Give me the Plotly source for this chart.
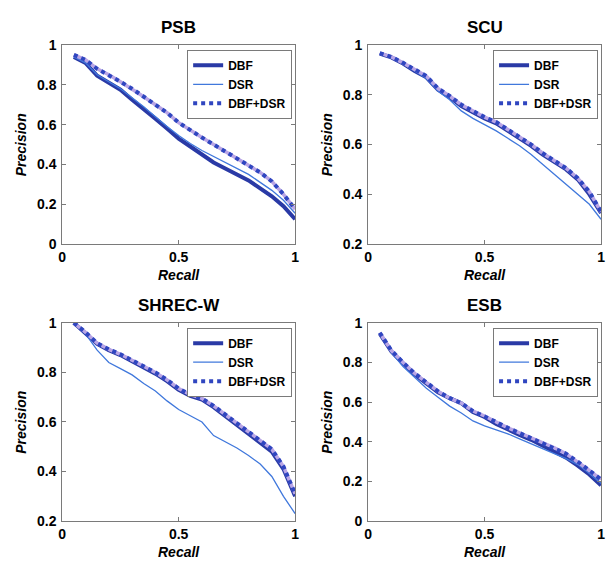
import plotly.graph_objects as go

# Recall sampling points shared by all precision-recall curves
recall = [0.05, 0.10, 0.15, 0.20, 0.25, 0.30, 0.35, 0.40, 0.45, 0.50,
          0.55, 0.60, 0.65, 0.70, 0.75, 0.80, 0.85, 0.90, 0.95, 1.00]

datasets = ["PSB", "SCU", "SHREC-W", "ESB"]

psb_dbf = [0.94, 0.91, 0.845, 0.81, 0.775, 0.725, 0.68, 0.63, 0.58, 0.53,
           0.49, 0.45, 0.41, 0.38, 0.35, 0.32, 0.28, 0.24, 0.19, 0.125]
psb_dsr = [0.94, 0.91, 0.85, 0.815, 0.78, 0.735, 0.69, 0.64, 0.59, 0.545,
           0.505, 0.47, 0.44, 0.41, 0.38, 0.35, 0.31, 0.27, 0.22, 0.155]
psb_both = [0.95, 0.925, 0.88, 0.85, 0.815, 0.78, 0.74, 0.70, 0.66, 0.61,
            0.57, 0.535, 0.50, 0.465, 0.43, 0.395, 0.36, 0.315, 0.25, 0.175]

scu_dbf = [0.965, 0.95, 0.925, 0.895, 0.87, 0.82, 0.79, 0.755, 0.73, 0.705,
           0.685, 0.655, 0.625, 0.595, 0.56, 0.53, 0.50, 0.46, 0.40, 0.325]
scu_dsr = [0.965, 0.95, 0.925, 0.895, 0.865, 0.815, 0.78, 0.735, 0.705, 0.68,
           0.655, 0.625, 0.595, 0.56, 0.52, 0.48, 0.44, 0.40, 0.36, 0.30]
scu_both = [0.967, 0.952, 0.928, 0.9, 0.875, 0.825, 0.795, 0.76, 0.735, 0.71,
            0.69, 0.66, 0.63, 0.60, 0.565, 0.535, 0.505, 0.465, 0.41, 0.33]

shrec_dbf = [1.0, 0.96, 0.915, 0.89, 0.87, 0.845, 0.82, 0.795, 0.765, 0.73,
             0.705, 0.69, 0.66, 0.625, 0.59, 0.555, 0.52, 0.48, 0.41, 0.30]
shrec_dsr = [1.0, 0.955, 0.89, 0.84, 0.815, 0.79, 0.755, 0.725, 0.685, 0.65,
             0.625, 0.60, 0.545, 0.52, 0.495, 0.465, 0.43, 0.38, 0.30, 0.23]
shrec_both = [1.0, 0.962, 0.918, 0.893, 0.873, 0.85, 0.825, 0.80, 0.77, 0.735,
              0.71, 0.695, 0.665, 0.63, 0.595, 0.56, 0.525, 0.49, 0.42, 0.31]

esb_dbf = [0.945, 0.855, 0.795, 0.74, 0.695, 0.65, 0.62, 0.595, 0.55, 0.525,
           0.49, 0.46, 0.435, 0.41, 0.38, 0.355, 0.32, 0.28, 0.235, 0.18]
esb_dsr = [0.945, 0.85, 0.78, 0.725, 0.67, 0.625, 0.58, 0.545, 0.505, 0.48,
           0.46, 0.44, 0.415, 0.39, 0.365, 0.34, 0.315, 0.285, 0.24, 0.19]
esb_both = [0.95, 0.86, 0.80, 0.745, 0.70, 0.655, 0.62, 0.595, 0.555, 0.53,
            0.50, 0.47, 0.445, 0.42, 0.395, 0.37, 0.34, 0.30, 0.255, 0.21]

series_names = ["DBF", "DSR", "DBF+DSR"]
curves = [
    (psb_dbf, psb_dsr, psb_both),
    (scu_dbf, scu_dsr, scu_both),
    (shrec_dbf, shrec_dsr, shrec_both),
    (esb_dbf, esb_dsr, esb_both),
]
y_ranges = [(0, 1), (0.2, 1), (0.2, 1), (0, 1)]
x_ticks = [0, 0.5, 1]

# ---- layout in pixels ----
W, H = 607, 566
panel_px = [  # left, right, top, bottom
    (59, 295, 38, 243),
    (369, 605, 38, 243),
    (59, 295, 324, 528),
    (369, 605, 324, 528),
]

def px(x):
    return x / W

def py(y):
    return 1 - y / H

C_DBF = "#2a3aa6"
C_DSR = "#4078dc"
C_BOTH = "#3046c0"
C_BOTH_GAP = "#b9a6e6"
AX_COLOR = "#7a7a7a"
FONT = "Liberation Sans, Arial, sans-serif"

fig = go.Figure()
layout = dict(
    width=W, height=H,
    margin=dict(l=0, r=0, t=0, b=0),
    paper_bgcolor="white", plot_bgcolor="white",
    font=dict(family=FONT, color="black"),
    annotations=[],
)

for i, (name, (dbf, dsr, both), yr, (l, r, t, b)) in enumerate(
        zip(datasets, curves, y_ranges, panel_px)):
    k = "" if i == 0 else str(i + 1)
    xa, ya = "x" + k, "y" + k
    lg = "legend" + k

    fig.add_trace(go.Scatter(x=recall, y=dbf, name=series_names[0], mode="lines",
                             line=dict(color=C_DBF, width=4), xaxis=xa, yaxis=ya,
                             legend=lg))
    fig.add_trace(go.Scatter(x=recall, y=dsr, name=series_names[1], mode="lines",
                             line=dict(color=C_DSR, width=1.3), xaxis=xa, yaxis=ya,
                             legend=lg))
    # light underlay shows between the dots of the combined curve
    fig.add_trace(go.Scatter(x=recall, y=both, mode="lines", showlegend=False,
                             line=dict(color=C_BOTH_GAP, width=3.5), xaxis=xa, yaxis=ya,
                             hoverinfo="skip", legend=lg))
    fig.add_trace(go.Scatter(x=recall, y=both, name=series_names[2], mode="lines",
                             line=dict(color=C_BOTH, width=4, dash="dot"),
                             xaxis=xa, yaxis=ya, legend=lg))

    axis_common = dict(
        showline=True, linecolor=AX_COLOR, linewidth=1, mirror="ticks",
        ticks="inside", ticklen=4, tickcolor=AX_COLOR, showgrid=False, zeroline=False,
        tickfont=dict(family=FONT, size=14, weight="bold", color="black"),
    )
    layout["xaxis" + k] = dict(axis_common, domain=[px(l), px(r)], range=[0, 1],
                               tickvals=x_ticks, anchor=ya)
    layout["yaxis" + k] = dict(axis_common, domain=[py(b), py(t)], range=list(yr),
                               dtick=0.2, tick0=0, anchor=xa, ticklabelstandoff=2)
    layout[lg] = dict(
        x=px(r - 3), y=py(t + 5), xanchor="right", yanchor="top",
        bgcolor="white", bordercolor=AX_COLOR, borderwidth=1,
        font=dict(family=FONT, size=12, weight="bold", color="black"),
        tracegroupgap=0, itemwidth=30,
    )

    cx = (l + r) / 2
    layout["annotations"] += [
        dict(text="<b>%s</b>" % name, x=px(cx), y=py(t - 18), xref="paper", yref="paper",
             showarrow=False, xanchor="center", yanchor="middle",
             font=dict(family=FONT, size=17, color="black")),
        dict(text="<b><i>Recall</i></b>", x=px(cx), y=py(b + 32), xref="paper",
             yref="paper", showarrow=False, xanchor="center", yanchor="middle",
             font=dict(family=FONT, size=14, color="black")),
        dict(text="<b><i>Precision</i></b>", x=px(l - 42), y=py((t + b) / 2),
             xref="paper", yref="paper", showarrow=False, textangle=-90,
             xanchor="center", yanchor="middle",
             font=dict(family=FONT, size=14, color="black")),
    ]

fig.update_layout(**layout)
fig.write_html("out.html")
